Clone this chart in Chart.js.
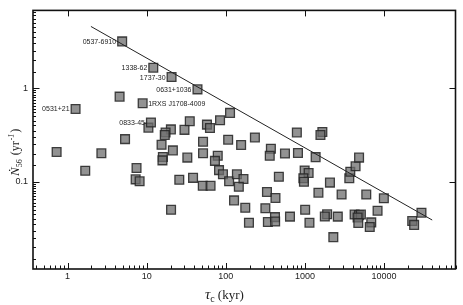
<!DOCTYPE html>
<html>
<head>
<meta charset="utf-8">
<script src="https://cdn.jsdelivr.net/npm/chart.js@4.4.1/dist/chart.umd.min.js"></script>
<style>
html, body { margin: 0; padding: 0; background: #fff; }
#wrap { width: 463px; height: 305px; position: relative; }
</style>
</head>
<body>
<div id="wrap"><canvas id="pulsarChart"></canvas></div>
<script>
// characteristic age tau_c (kyr) and rate N_56 (yr^-1)
const tauC = [
    0.726, 1.67, 2.67, 4.54, 5.32, 7.43, 7.24, 8.13, 10.5, 20.2,
    17.3, 16.9, 30.0, 35.0, 57.7, 63.0, 84.5, 113, 15.4, 21.4,
    16.0, 15.8, 32.6, 51.5, 51.5, 79.0, 72.8, 82.0, 91.9, 110,
    138, 167, 146, 25.8, 38.5, 51.1, 64.1, 20.3, 107, 156,
    233, 371, 359, 559, 816, 790, 1660, 1570, 1365, 127,
    176, 196, 331, 424, 316, 340, 418, 420, 468, 647,
    991, 1113, 955, 971, 1006, 1140, 1480, 2070, 1906, 1783,
    2602, 2284, 2906, 3636, 3744, 4365, 4832, 4244, 4807, 5093,
    4628, 4725, 5960, 6890, 6596, 8278, 9940, 22700, 24000, 29700
];
const nDot = [
    0.208, 0.131, 0.201, 0.810, 0.285, 0.140, 0.106, 0.101, 0.378, 0.362,
    0.336, 0.316, 0.358, 0.443, 0.407, 0.374, 0.453, 0.543, 0.248, 0.216,
    0.184, 0.169, 0.181, 0.267, 0.201, 0.189, 0.167, 0.133, 0.120, 0.101,
    0.120, 0.107, 0.0882, 0.105, 0.110, 0.0904, 0.0904, 0.0502, 0.281, 0.247,
    0.297, 0.225, 0.189, 0.200, 0.203, 0.336, 0.340, 0.316, 0.183, 0.0632,
    0.0527, 0.0365, 0.0778, 0.0671, 0.0522, 0.0371, 0.0419, 0.0376, 0.113, 0.0424,
    0.132, 0.124, 0.109, 0.0998, 0.0502, 0.0365, 0.0763, 0.0979, 0.0449, 0.0425,
    0.0424, 0.0256, 0.0730, 0.109, 0.128, 0.146, 0.181, 0.0446, 0.0440, 0.0446,
    0.0415, 0.0363, 0.0730, 0.0368, 0.0328, 0.0490, 0.0665, 0.0380, 0.0346, 0.0467
];

// named pulsars
const namedLabels = ['0537-6910', '1338-62', '1737-30', '0631+1036', '1RXS J1708-4009', '0531+21', '0833-45'];
const namedTau = [4.89, 12.1, 20.6, 43.8, 8.88, 1.26, 11.3];
const namedNdot = [3.15, 1.65, 1.31, 0.969, 0.688, 0.598, 0.429];

// straight line (end points)
const fitTau = [1.97, 40600];
const fitNdot = [4.55, 0.039];

// labelled decades
const xTicks = [1, 10, 100, 1000, 10000];
const yTicks = [0.1, 1];

const sans = "'Liberation Sans', Arial, sans-serif";
const serif = "'Liberation Serif', 'DejaVu Serif', serif";

function toPoints(xs, ys) {
    return xs.map((x, i) => ({ x: x, y: ys[i] }));
}

// frame + inward tick marks
const framePlugin = {
    id: 'frame',
    afterDatasetsDraw(chart) {
        const ctx = chart.ctx;
        const a = chart.chartArea;
        const xs = chart.scales.x, ys = chart.scales.y;
        ctx.save();
        ctx.strokeStyle = '#111';
        ctx.lineWidth = 1;
        ctx.beginPath();
        // x ticks: minor 2..9, major at decades
        for (let d = -1; d <= 5; d++) {
            for (let m = 1; m <= 9; m++) {
                const v = m * Math.pow(10, d);
                if (v < xs.min || v > xs.max) continue;
                const px = Math.round(xs.getPixelForValue(v)) + 0.5;
                const len = m === 1 ? 6 : 3.5;
                ctx.moveTo(px, a.bottom);
                ctx.lineTo(px, a.bottom - len);
                if (m === 1) {
                    ctx.moveTo(px, a.top);
                    ctx.lineTo(px, a.top + 6);
                }
            }
        }
        // y ticks: minor every half unit
        for (let d = -2; d <= 1; d++) {
            for (let m = 1; m < 10; m += 0.5) {
                const v = m * Math.pow(10, d);
                if (v < ys.min || v > ys.max) continue;
                const py = Math.round(ys.getPixelForValue(v)) + 0.5;
                const len = m === 1 ? 6.5 : 3;
                ctx.moveTo(a.left, py);
                ctx.lineTo(a.left + len, py);
                if (m === 1) {
                    ctx.moveTo(a.right, py);
                    ctx.lineTo(a.right - 6, py);
                }
            }
        }
        ctx.stroke();
        ctx.lineWidth = 1.6;
        ctx.strokeRect(a.left, a.top, a.right - a.left, a.bottom - a.top);

        // pulsar names
        ctx.fillStyle = '#222';
        ctx.font = '7px ' + sans;
        ctx.textBaseline = 'middle';
        namedLabels.forEach((name, i) => {
            const px = xs.getPixelForValue(namedTau[i]);
            const py = ys.getPixelForValue(namedNdot[i]) + 0.5;
            if (name.startsWith('1RXS')) {
                ctx.textAlign = 'left';
                ctx.fillText(name, px + 5.5, py);
            } else {
                ctx.textAlign = 'right';
                ctx.fillText(name, px - 6, py);
            }
        });

        // x title: tau_c (kyr)
        ctx.textAlign = 'left';
        ctx.textBaseline = 'alphabetic';
        let x = 205, y = 299;
        ctx.font = 'italic 15px ' + serif;
        ctx.fillText('τ', x, y);
        x += ctx.measureText('τ').width;
        ctx.font = '10px ' + serif;
        ctx.fillText('c', x, y + 3);
        x += ctx.measureText('c').width + 3;
        ctx.font = '13px ' + serif;
        ctx.fillText('(kyr)', x, y);

        // y title: N-dot_56 (yr^-1), rotated
        ctx.translate(19, 176);
        ctx.rotate(-Math.PI / 2);
        x = 0; y = 0;
        ctx.font = 'italic 13px ' + serif;
        ctx.fillText('Ṅ', x, y);
        x += ctx.measureText('Ṅ').width;
        ctx.font = '8px ' + serif;
        ctx.fillText('56', x, y + 3);
        x += ctx.measureText('56').width + 4;
        ctx.font = '12px ' + serif;
        ctx.fillText('(yr', x, y);
        x += ctx.measureText('(yr').width;
        ctx.font = 'italic 8px ' + serif;
        ctx.fillText('-1', x + 1, y - 5);
        x += ctx.measureText('-1').width + 2;
        ctx.font = '12px ' + serif;
        ctx.fillText(')', x, y);
        ctx.restore();
    }
};

const squareStyle = {
    pointStyle: 'rect',
    pointRadius: 6.2,
    pointHoverRadius: 6.2,
    backgroundColor: 'rgba(110,110,110,0.75)',
    borderColor: 'rgba(35,35,35,0.85)',
    borderWidth: 1.3
};

const ctx = document.getElementById('pulsarChart').getContext('2d');
new Chart(ctx, {
    type: 'scatter',
    data: {
        datasets: [
            {
                type: 'line',
                data: toPoints(fitTau, fitNdot),
                borderColor: '#222',
                borderWidth: 1,
                pointRadius: 0,
                fill: false
            },
            Object.assign({ data: toPoints(namedTau, namedNdot) }, squareStyle),
            Object.assign({ data: toPoints(tauC, nDot) }, squareStyle)
        ]
    },
    options: {
        responsive: true,
        maintainAspectRatio: false,
        animation: false,
        events: [],
        layout: { padding: { top: 6, right: 7, left: 0, bottom: 0 } },
        plugins: {
            legend: { display: false },
            tooltip: { enabled: false }
        },
        scales: {
            x: {
                type: 'logarithmic',
                min: 0.365,
                max: 80000,
                afterFit: s => { s.height = 36; },
                afterBuildTicks: s => { s.ticks = xTicks.map(v => ({ value: v })); },
                grid: { display: false, drawTicks: false },
                border: { display: false },
                ticks: {
                    font: { family: sans, size: 9 },
                    color: '#222',
                    padding: 2,
                    maxRotation: 0,
                    autoSkip: false,
                    callback: v => String(v)
                }
            },
            y: {
                type: 'logarithmic',
                min: 0.0117,
                max: 6.75,
                afterFit: s => { s.width = 33; },
                afterBuildTicks: s => { s.ticks = yTicks.map(v => ({ value: v })); },
                grid: { display: false, drawTicks: false },
                border: { display: false },
                ticks: {
                    font: { family: sans, size: 9 },
                    color: '#222',
                    padding: 5,
                    autoSkip: false,
                    callback: v => String(v)
                }
            }
        }
    },
    plugins: [framePlugin]
});
</script>
</body>
</html>
